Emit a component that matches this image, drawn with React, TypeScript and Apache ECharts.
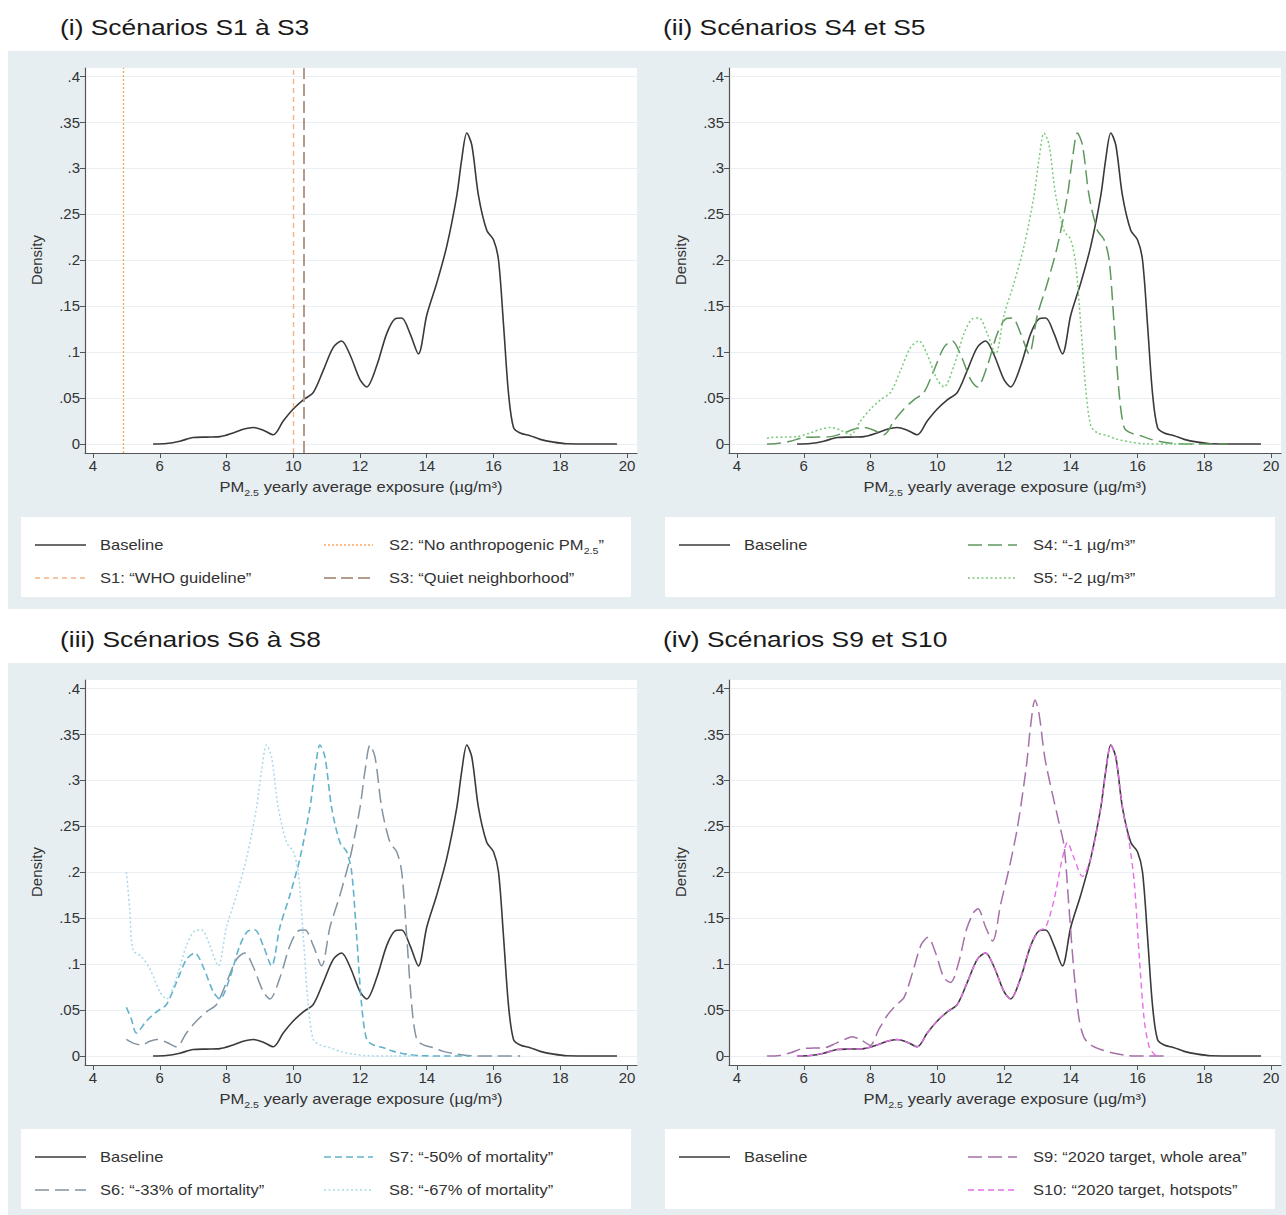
import React, { useEffect, useRef } from 'react';
import * as echarts from 'echarts';

// ---------------- DATA ----------------
const xTicks = [4, 6, 8, 10, 12, 14, 16, 18, 20];
const yTicks = [0, 0.05, 0.1, 0.15, 0.2, 0.25, 0.3, 0.35, 0.4];

const panelTitles = [
  '(i) Scénarios S1 à S3',
  '(ii) Scénarios S4 et S5',
  '(iii) Scénarios S6 à S8',
  '(iv) Scénarios S9 et S10',
];

// Baseline kernel density (same in all four panels)
const baseline = [[5.8,0],[6.2,0.0005],[6.6,0.003],[7.0,0.007],[7.4,0.0075],[7.8,0.008],[8.2,0.012],[8.5,0.016],[8.8,0.018],[9.1,0.015],[9.4,0.01],[9.7,0.025],[10.0,0.038],[10.3,0.048],[10.6,0.056],[10.9,0.08],[11.2,0.105],[11.45,0.112],[11.7,0.097],[12.0,0.07],[12.2,0.062],[12.5,0.085],[12.8,0.12],[13.05,0.136],[13.25,0.137],[13.5,0.12],[13.75,0.098],[14.0,0.14],[14.3,0.175],[14.6,0.215],[14.9,0.27],[15.05,0.31],[15.2,0.338],[15.35,0.325],[15.55,0.27],[15.8,0.232],[16.0,0.222],[16.15,0.2],[16.3,0.13],[16.45,0.055],[16.6,0.018],[16.8,0.012],[17.1,0.009],[17.4,0.005],[17.8,0.002],[18.2,0.0003],[19.0,0],[19.7,0]];

// Panel (i): vertical scenario thresholds
const s1Value = 10.0;  // WHO guideline
const s2Value = 4.9;   // No anthropogenic PM2.5
const s3Value = 10.3;  // Quiet neighborhood

// Panel (ii)
const s4 = [[4.9,0],[5.2,0.0005],[5.6,0.003],[6.0,0.007],[6.4,0.0075],[6.8,0.008],[7.2,0.012],[7.5,0.016],[7.8,0.018],[8.1,0.015],[8.4,0.01],[8.7,0.025],[9.0,0.038],[9.3,0.048],[9.6,0.056],[9.9,0.08],[10.2,0.105],[10.45,0.112],[10.7,0.097],[11.0,0.07],[11.2,0.062],[11.5,0.085],[11.8,0.12],[12.05,0.136],[12.25,0.137],[12.5,0.12],[12.75,0.098],[13.0,0.14],[13.3,0.175],[13.6,0.215],[13.9,0.27],[14.05,0.31],[14.2,0.338],[14.35,0.325],[14.55,0.27],[14.8,0.232],[15.0,0.222],[15.15,0.2],[15.3,0.13],[15.45,0.055],[15.6,0.018],[15.8,0.012],[16.1,0.009],[16.4,0.005],[16.8,0.002],[17.2,0.0003],[18.0,0],[18.7,0]];
const s5 = [[4.9,0.006],[5.0,0.007],[5.4,0.0075],[5.8,0.008],[6.2,0.012],[6.5,0.016],[6.8,0.018],[7.1,0.015],[7.4,0.01],[7.7,0.025],[8.0,0.038],[8.3,0.048],[8.6,0.056],[8.9,0.08],[9.2,0.105],[9.45,0.112],[9.7,0.097],[10.0,0.07],[10.2,0.062],[10.5,0.085],[10.8,0.12],[11.05,0.136],[11.25,0.137],[11.5,0.12],[11.75,0.098],[12.0,0.14],[12.3,0.175],[12.6,0.215],[12.9,0.27],[13.05,0.31],[13.2,0.338],[13.35,0.325],[13.55,0.27],[13.8,0.232],[14.0,0.222],[14.15,0.195],[14.3,0.13],[14.45,0.06],[14.6,0.02],[14.8,0.012],[15.1,0.009],[15.4,0.005],[15.8,0.002],[16.2,0.0003],[17.0,0],[17.7,0]];

// Panel (iii)
const s6 = [[5.0,0.018],[5.2,0.014],[5.45,0.012],[5.7,0.016],[5.9,0.018],[6.2,0.015],[6.5,0.01],[6.8,0.025],[7.1,0.038],[7.4,0.048],[7.7,0.056],[8.0,0.08],[8.3,0.105],[8.55,0.112],[8.8,0.097],[9.1,0.07],[9.3,0.062],[9.6,0.085],[9.9,0.12],[10.15,0.136],[10.35,0.137],[10.6,0.12],[10.85,0.098],[11.1,0.14],[11.4,0.175],[11.7,0.215],[12.0,0.27],[12.15,0.31],[12.3,0.338],[12.45,0.325],[12.65,0.27],[12.9,0.232],[13.1,0.222],[13.25,0.2],[13.4,0.13],[13.55,0.055],[13.7,0.018],[13.9,0.012],[14.2,0.009],[14.5,0.005],[14.9,0.002],[15.3,0.0003],[16.1,0],[16.8,0]];
const s7 = [[5.0,0.053],[5.15,0.04],[5.3,0.025],[5.6,0.038],[5.9,0.048],[6.2,0.056],[6.5,0.08],[6.8,0.105],[7.05,0.112],[7.3,0.097],[7.6,0.07],[7.8,0.062],[8.1,0.085],[8.4,0.12],[8.65,0.136],[8.85,0.137],[9.1,0.12],[9.35,0.098],[9.6,0.14],[9.9,0.175],[10.2,0.215],[10.5,0.27],[10.65,0.31],[10.8,0.338],[10.95,0.325],[11.15,0.27],[11.4,0.232],[11.6,0.222],[11.75,0.2],[11.9,0.13],[12.05,0.055],[12.2,0.018],[12.4,0.012],[12.7,0.009],[13.0,0.005],[13.4,0.002],[13.8,0.0003],[14.6,0],[15.3,0]];
const s8 = [[5.0,0.2],[5.1,0.16],[5.2,0.115],[5.45,0.108],[5.7,0.095],[6.0,0.07],[6.2,0.062],[6.5,0.085],[6.8,0.12],[7.05,0.136],[7.25,0.137],[7.5,0.12],[7.75,0.098],[8.0,0.14],[8.3,0.175],[8.6,0.215],[8.9,0.27],[9.05,0.31],[9.2,0.338],[9.35,0.325],[9.55,0.27],[9.8,0.232],[10.0,0.222],[10.15,0.2],[10.3,0.13],[10.45,0.055],[10.6,0.018],[10.8,0.012],[11.1,0.009],[11.4,0.005],[11.8,0.002],[12.2,0.0003],[13.0,0],[13.7,0]];

// Panel (iv)
const s9 = [[4.9,0],[5.27,0.0006],[5.61,0.0035],[5.95,0.008],[6.29,0.0086],[6.63,0.009],[6.97,0.014],[7.23,0.018],[7.45,0.021],[7.74,0.017],[7.99,0.0115],[8.25,0.029],[8.5,0.044],[8.76,0.055],[9.01,0.064],[9.27,0.092],[9.52,0.121],[9.72,0.129],[9.95,0.112],[10.2,0.085],[10.4,0.08],[10.63,0.1],[10.88,0.138],[11.09,0.156],[11.22,0.16],[11.45,0.14],[11.66,0.125],[11.9,0.165],[12.16,0.205],[12.41,0.25],[12.67,0.315],[12.8,0.36],[12.93,0.387],[13.05,0.372],[13.22,0.325],[13.45,0.285],[13.62,0.258],[13.8,0.228],[13.95,0.16],[14.1,0.09],[14.25,0.04],[14.4,0.02],[14.6,0.012],[14.9,0.007],[15.3,0.003],[15.7,0.0005],[16.3,0],[16.9,0]];
const s10 = [[5.8,0],[6.2,0.0005],[6.6,0.003],[7.0,0.007],[7.4,0.0075],[7.8,0.008],[8.2,0.012],[8.5,0.016],[8.8,0.018],[9.1,0.015],[9.4,0.01],[9.7,0.025],[10.0,0.038],[10.3,0.048],[10.6,0.056],[10.9,0.08],[11.2,0.105],[11.45,0.112],[11.7,0.097],[12.0,0.07],[12.2,0.062],[12.5,0.085],[12.8,0.12],[13.05,0.136],[13.25,0.14],[13.5,0.17],[13.75,0.215],[13.9,0.232],[14.1,0.215],[14.35,0.195],[14.6,0.215],[14.9,0.27],[15.05,0.31],[15.2,0.338],[15.35,0.325],[15.55,0.27],[15.75,0.232],[15.9,0.19],[16.05,0.11],[16.2,0.04],[16.35,0.01],[16.5,0.002],[16.6,0]];

// Legend labels ({sub|..} marks a subscript)
const legendLabels = {
  baseline: 'Baseline',
  s1: 'S1: “WHO guideline”',
  s2: 'S2: “No anthropogenic PM{sub|2.5}”',
  s3: 'S3: “Quiet neighborhood”',
  s4: 'S4: “-1 µg/m³”',
  s5: 'S5: “-2 µg/m³”',
  s6: 'S6: “-33% of mortality”',
  s7: 'S7: “-50% of mortality”',
  s8: 'S8: “-67% of mortality”',
  s9: 'S9: “2020 target, whole area”',
  s10: 'S10: “2020 target, hotspots”',
};
const xTitle = 'PM{sub|2.5} yearly average exposure (µg/m³)';
const yTitle = 'Density';

// ---------------- STYLE / LAYOUT ----------------
const FONT = '"Liberation Sans", Arial, Helvetica, sans-serif';
const TEXT_SCALE = 1.18;
const X_MIN = 3.76, X_MAX = 20.3, Y_MIN = -0.0098, Y_MAX = 0.4087;

const styles: Record<string, { color: string; width: number; dash: any }> = {
  baseline: { color: '#3a3a3a', width: 1.6, dash: 'solid' },
  s1: { color: '#f0b48c', width: 1.4, dash: [5, 4] },
  s2: { color: '#f3a85e', width: 1.4, dash: [2, 2] },
  s3: { color: '#b59a8f', width: 2, dash: [12, 5] },
  s4: { color: '#5e985e', width: 1.5, dash: [14, 6] },
  s5: { color: '#78cb78', width: 1.5, dash: [2, 2.5] },
  s6: { color: '#8393a0', width: 1.5, dash: [14, 6] },
  s7: { color: '#62b2cc', width: 1.6, dash: [7, 4] },
  s8: { color: '#a9d8ea', width: 1.5, dash: [2, 2.5] },
  s9: { color: '#a670a8', width: 1.5, dash: [14, 6] },
  s10: { color: '#e66ee8', width: 1.4, dash: [6, 4] },
};

const panels = [
  { ox: 0, oy: 0, titleX: 60 },
  { ox: 644, oy: 0, titleX: 663 },
  { ox: 0, oy: 612, titleX: 60 },
  { ox: 644, oy: 612, titleX: 663 },
];

const panelSeries: { key: string; data: number[][] }[][] = [
  [{ key: 'baseline', data: baseline }],
  [{ key: 'baseline', data: baseline }, { key: 's4', data: s4 }, { key: 's5', data: s5 }],
  [{ key: 'baseline', data: baseline }, { key: 's6', data: s6 }, { key: 's7', data: s7 }, { key: 's8', data: s8 }],
  [{ key: 'baseline', data: baseline }, { key: 's9', data: s9 }, { key: 's10', data: s10 }],
];

// legend layout: [key, column, row]
const panelLegends: [string, number, number][][] = [
  [['baseline', 0, 0], ['s1', 0, 1], ['s2', 1, 0], ['s3', 1, 1]],
  [['baseline', 0, 0], ['s4', 1, 0], ['s5', 1, 1]],
  [['baseline', 0, 0], ['s6', 0, 1], ['s7', 1, 0], ['s8', 1, 1]],
  [['baseline', 0, 0], ['s9', 1, 0], ['s10', 1, 1]],
];

const subRich = {
  sub: { fontSize: 9, fontFamily: FONT, fill: '#333', verticalAlign: 'bottom', lineHeight: 13 },
};

function textEl(x: number, y: number, text: string, opts: any = {}) {
  return {
    type: 'text',
    x,
    y,
    z: 10,
    scaleX: opts.scaleX ?? 1,
    rotation: opts.rotation ?? 0,
    silent: true,
    style: {
      text,
      fill: opts.fill ?? '#333',
      fontSize: opts.fontSize ?? 14,
      fontFamily: FONT,
      align: opts.align ?? 'left',
      verticalAlign: 'middle',
      lineHeight: 20,
      rich: subRich,
    },
  };
}

export default function App() {
  const ref = useRef<HTMLDivElement>(null);

  useEffect(() => {
    if (!ref.current) return;
    const chart = echarts.init(ref.current, null, { renderer: 'svg' });

    const grids: any[] = [];
    const xAxes: any[] = [];
    const yAxes: any[] = [];
    const series: any[] = [];
    const elements: any[] = [];

    // background bands
    elements.push({ type: 'rect', z: -10, silent: true, shape: { x: 8, y: 51, width: 1278, height: 558 }, style: { fill: '#e7eef2' } });
    elements.push({ type: 'rect', z: -10, silent: true, shape: { x: 8, y: 663, width: 1278, height: 552 }, style: { fill: '#e7eef2' } });

    panels.forEach((p, i) => {
      const gl = 85 + p.ox, gt = 68 + p.oy, gw = 552, gh = 385;
      grids.push({ left: gl, top: gt, width: gw, height: gh, containLabel: false, outerBoundsMode: 'none', show: false });
      xAxes.push({
        type: 'value', gridIndex: i, min: X_MIN, max: X_MAX,
        axisLine: { show: true, onZero: false, lineStyle: { color: '#555', width: 1.2 } },
        axisTick: { show: true, length: 5, customValues: xTicks, lineStyle: { color: '#555' } },
        axisLabel: { customValues: xTicks, fontSize: 15, color: '#333', margin: 5, fontFamily: FONT },
        splitLine: { show: false },
      });
      yAxes.push({
        type: 'value', gridIndex: i, min: Y_MIN, max: Y_MAX,
        axisLine: { show: true, onZero: false, lineStyle: { color: '#555', width: 1.2 } },
        axisTick: { show: true, length: 5, customValues: yTicks, lineStyle: { color: '#555' } },
        axisLabel: {
          customValues: yTicks, fontSize: 15, color: '#333', margin: 5, fontFamily: FONT,
          formatter: (v: number) => (v === 0 ? '0' : v.toFixed(2).replace(/0+$/, '').replace(/^0/, '')),
        },
        splitLine: { show: true, lineStyle: { color: '#e9eff2', width: 1 } },
      });

      // plot region & legend box
      elements.push({ type: 'rect', z: -9, silent: true, shape: { x: gl, y: gt, width: gw, height: gh }, style: { fill: '#ffffff' } });
      elements.push({ type: 'rect', z: -9, silent: true, shape: { x: 21 + p.ox, y: 517 + p.oy, width: 610, height: 80 }, style: { fill: '#ffffff' } });

      // titles
      elements.push(textEl(p.titleX, 27 + p.oy, panelTitles[i], { fontSize: 22, fill: '#1a1a1a', scaleX: 1.2 }));
      elements.push(textEl(361 + p.ox, 487 + p.oy, xTitle, { align: 'center', scaleX: TEXT_SCALE }));
      elements.push(textEl(36 + p.ox, 260 + p.oy, yTitle, { align: 'center', rotation: Math.PI / 2, fontSize: 15 }));

      // series
      panelSeries[i].forEach((s) => {
        const st = styles[s.key];
        const ser: any = {
          type: 'line', name: legendLabels[s.key as keyof typeof legendLabels],
          xAxisIndex: i, yAxisIndex: i, data: s.data,
          showSymbol: false, symbol: 'none', smooth: 0.3, silent: true,
          lineStyle: { color: st.color, width: st.width, type: st.dash },
          z: s.key === 'baseline' ? 3 : 4,
        };
        if (i === 0 && s.key === 'baseline') {
          ser.markLine = {
            silent: true, symbol: ['none', 'none'], label: { show: false },
            data: [
              { xAxis: s2Value, lineStyle: { color: styles.s2.color, width: styles.s2.width, type: styles.s2.dash } },
              { xAxis: s1Value, lineStyle: { color: styles.s1.color, width: styles.s1.width, type: styles.s1.dash } },
              { xAxis: s3Value, lineStyle: { color: styles.s3.color, width: styles.s3.width, type: styles.s3.dash } },
            ],
          };
        }
        series.push(ser);
      });

      // legend
      panelLegends[i].forEach(([key, col, row]) => {
        const st = styles[key];
        const y = 545 + row * 33 + p.oy;
        const x1 = (col === 0 ? 35 : 324) + p.ox;
        const x2 = (col === 0 ? 86 : 373) + p.ox;
        const tx = (col === 0 ? 100 : 389) + p.ox;
        elements.push({
          type: 'line', z: 10, silent: true,
          shape: { x1, y1: y, x2, y2: y },
          style: { stroke: st.color, lineWidth: st.width, lineDash: st.dash === 'solid' ? null : st.dash },
        });
        elements.push(textEl(tx, y, legendLabels[key as keyof typeof legendLabels], { scaleX: TEXT_SCALE }));
      });
    });

    chart.setOption({
      animation: false,
      backgroundColor: '#ffffff',
      textStyle: { fontFamily: FONT },
      grid: grids,
      xAxis: xAxes,
      yAxis: yAxes,
      series,
      graphic: { elements },
    });

    return () => chart.dispose();
  }, []);

  return <div ref={ref} style={{ position: 'absolute', left: 0, top: 0, width: 1286, height: 1215 }} />;
}
